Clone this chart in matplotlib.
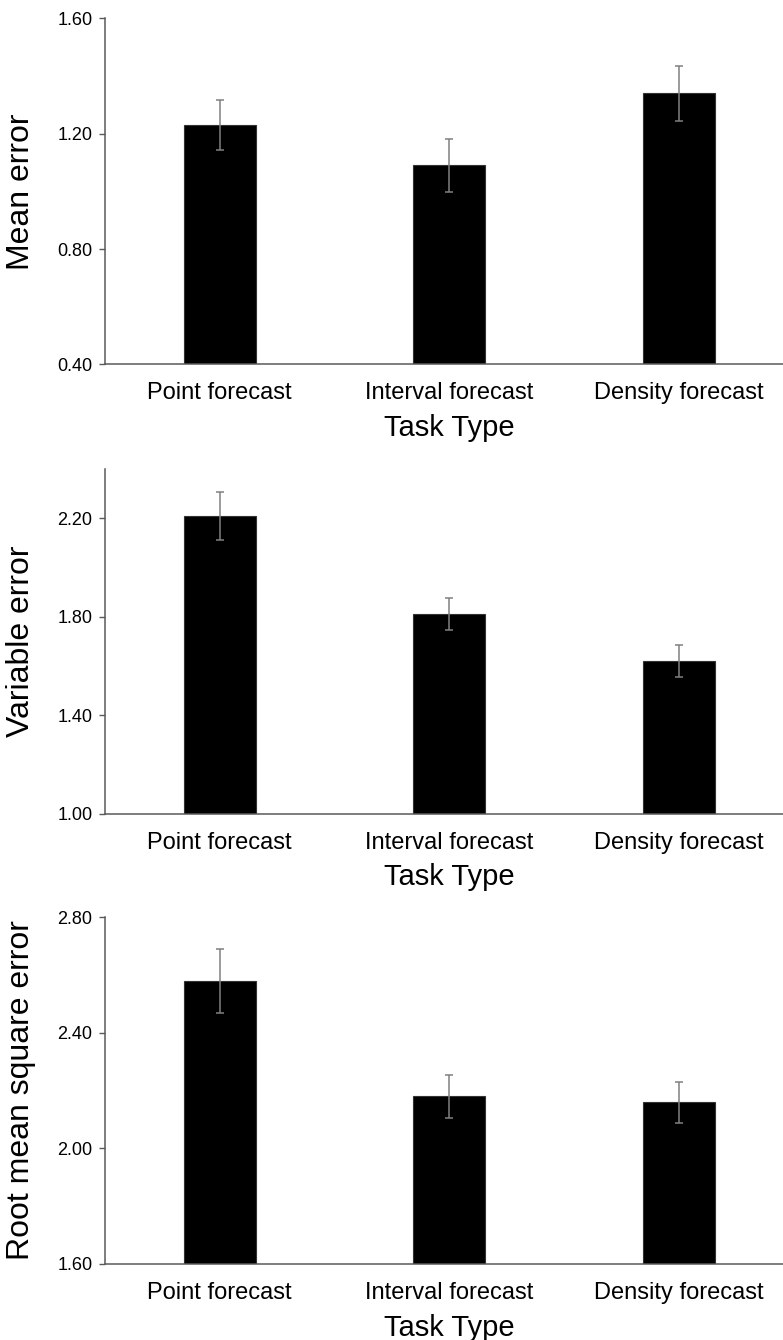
import matplotlib
matplotlib.use("Agg")
import matplotlib.pyplot as plt

plt.rcParams["font.family"] = ["Liberation Sans", "DejaVu Sans"]

task_types = ["Point forecast", "Interval forecast", "Density forecast"]

mean_error = [1.23, 1.09, 1.34]
mean_error_se = [0.088, 0.091, 0.095]

variable_error = [2.21, 1.81, 1.62]
variable_error_se = [0.098, 0.064, 0.064]

rmse = [2.58, 2.18, 2.16]
rmse_se = [0.11, 0.074, 0.071]

panels = [
    ("Mean error", mean_error, mean_error_se, (0.40, 1.60), [0.40, 0.80, 1.20, 1.60]),
    ("Variable error", variable_error, variable_error_se, (1.00, 2.40), [1.00, 1.40, 1.80, 2.20]),
    ("Root mean square error", rmse, rmse_se, (1.60, 2.80), [1.60, 2.00, 2.40, 2.80]),
]

# axes rectangles in figure fractions (left, bottom, width, height)
rects = [
    (0.1341, 0.7281, 0.8793, 0.2582),
    (0.1341, 0.3928, 0.8793, 0.2572),
    (0.1341, 0.0569, 0.8793, 0.2585),
]

spine_color = "#5a5a5a"

fig = plt.figure(figsize=(7.83, 13.4), dpi=100)

for (ylabel, values, errs, ylim, yticks), rect in zip(panels, rects):
    ax = fig.add_axes(rect)
    x = range(len(task_types))
    ax.bar(x, values, width=0.314, color="black", edgecolor="#333333", linewidth=0.8,
           yerr=errs, capsize=3, error_kw=dict(ecolor="#808080", elinewidth=1.1, capthick=1.1),
           zorder=2)
    ax.set_xlim(-0.5, 2.5)
    ax.set_ylim(*ylim)
    ax.set_yticks(yticks)
    ax.set_yticklabels([f"{t:.2f}" for t in yticks], fontsize=13)
    ax.set_xticks(list(x))
    ax.set_xticklabels(task_types, fontsize=17)
    ax.tick_params(axis="x", length=0, pad=13)
    ax.tick_params(axis="y", length=4, width=1, color=spine_color, pad=5, direction="out")
    for side in ["top", "right"]:
        ax.spines[side].set_visible(False)
    for side in ["left", "bottom"]:
        ax.spines[side].set_color(spine_color)
        ax.spines[side].set_linewidth(1.1)
    ax.set_xlabel("Task Type", fontsize=21, labelpad=7)
    ax.set_ylabel(ylabel, fontsize=23)
    ax.yaxis.set_label_coords(-0.100, 0.5)

fig.savefig("out.png", dpi=100)
